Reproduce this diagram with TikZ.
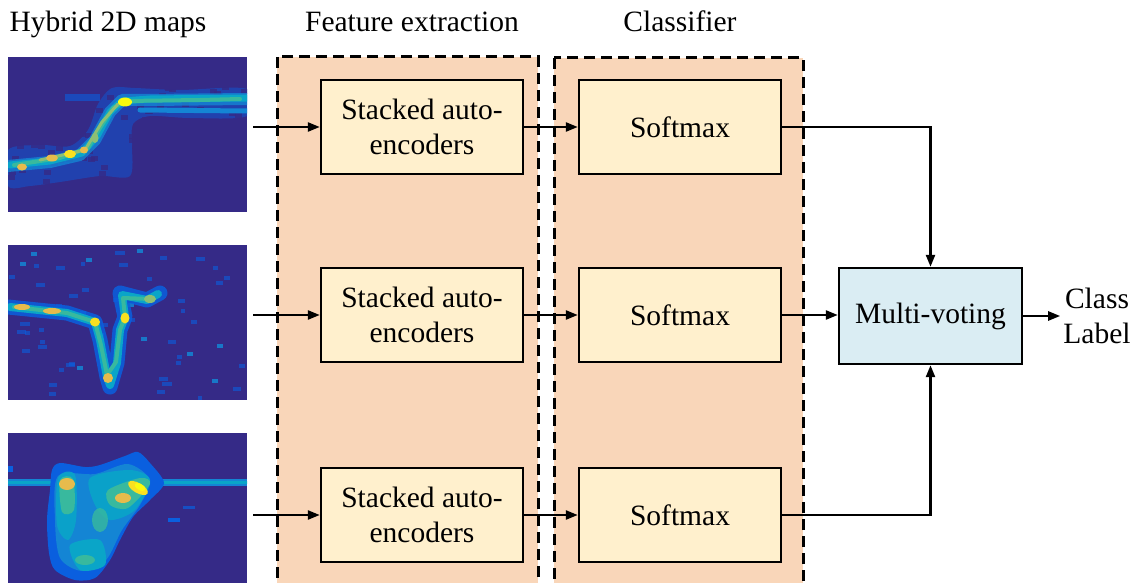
\documentclass[tikz,border=0pt]{standalone}
\usepackage{fontspec}
\setmainfont{Liberation Serif}
\usetikzlibrary{arrows.meta}
\definecolor{mapbg}{HTML}{352A87}
\definecolor{pblue}{HTML}{0A5FDF}
\definecolor{plblue}{HTML}{1485D4}
\definecolor{pcyan}{HTML}{0AA5C8}
\definecolor{pteal}{HTML}{38B99E}
\definecolor{pgreen}{HTML}{8CBF74}
\definecolor{porange}{HTML}{E6BB4C}
\definecolor{pyellow}{HTML}{F9E020}
\definecolor{pbright}{HTML}{F9FB0E}
\definecolor{panelfill}{HTML}{F9D6B9}
\definecolor{boxfill}{HTML}{FFF0CD}
\definecolor{mvfill}{HTML}{DAEDF3}
\tikzset{
  panel/.style={draw=black, fill=panelfill, line width=3pt, dash pattern=on 11pt off 6pt},
  blk/.style={draw=black, fill=boxfill, line width=2.4pt, minimum width=202pt, minimum height=94pt, inner sep=0pt, align=center, font=\fontsize{29.5}{35}\selectfont},
  mvbox/.style={draw=black, fill=mvfill, line width=2.4pt, minimum width=183pt, minimum height=96pt, inner sep=0pt, font=\fontsize{29.5}{35}\selectfont},
  title/.style={anchor=base, inner sep=0pt, font=\fontsize{29.5}{35}\selectfont},
  lbl/.style={align=center, inner sep=3pt, font=\fontsize{29.5}{35}\selectfont},
  arr/.style={line width=2.4pt, -{Triangle[length=12pt,width=9pt]}},
  mapnode/.style={fill=mapbg, minimum width=239pt, minimum height=155pt, inner sep=0pt},
  haze/.style={line width=#1, line cap=round, line join=round}
}
\begin{document}
\begin{tikzpicture}[x=1pt,y=-1pt]
\clip (0,0) rectangle (1137,583);
\fill[white] (0,0) rectangle (1137,583);

% titles
\node[title] (t1) at (108,32) {Hybrid 2D maps};
\node[title] (t2) at (412,32) {Feature extraction};
\node[title] (t3) at (680,32) {Classifier};

% panels
\draw[panel] (277,57) rectangle (538,620);
\draw[panel] (554,58) rectangle (803,620);

% ---------- map 1 ----------
\node[mapnode] (m1) at (127.5,134.5) {};
\begin{scope}
\clip (8,57) rectangle (247,212);
\fill[pblue, opacity=.45] plot[smooth cycle] coordinates {(8,150) (40,145) (70,146) (88,130) (98,104) (112,88) (135,88) (180,90) (247,89) (247,116) (190,118) (150,116) (133,124) (132,145) (130,176) (100,176) (60,182) (30,186) (8,186)};
\pgfmathsetseed{11}
\foreach \i in {1,...,110}{
  \pgfmathsetmacro\xx{8+235*rnd}
  \pgfmathsetmacro\yy{84+104*rnd}
  \fill[mapbg, opacity=.8] (\xx,\yy) rectangle ++(7,5);
}
\fill[pblue, opacity=.6] (65,94) rectangle (100,101);
\draw[plblue, haze=12pt, opacity=.8] (8,166) -- (50,162) -- (80,155) -- (95,140) -- (110,112) -- (122,100) -- (150,100) -- (247,99);
\draw[plblue, haze=5pt] (140,110) -- (247,111);
\draw[pcyan, haze=7pt] (10,165) -- (50,161) -- (82,153) -- (97,136) -- (110,112) -- (122,101) -- (150,99) -- (247,98);
\draw[pteal, haze=4pt] (14,165) -- (60,158) -- (88,148) -- (100,128) -- (113,108) -- (125,101) -- (200,100) -- (240,99);
\draw[pgreen, haze=3pt] (40,160) -- (85,150) -- (102,122) -- (118,104);
\fill[porange] (22,167) ellipse (5pt and 3.5pt);
\fill[porange] (52,158) ellipse (6pt and 3.5pt);
\fill[pyellow] (70,154) ellipse (6pt and 4pt);
\fill[porange] (84,150) ellipse (4pt and 3.5pt);
\fill[pbright] (125,102) ellipse (7pt and 4.5pt);
\fill[pgreen] (95,138) ellipse (3.5pt and 5pt);
\end{scope}

% ---------- map 2 ----------
\node[mapnode] (m2) at (127.5,322.5) {};
\begin{scope}
\clip (8,245) rectangle (247,400);
\pgfmathsetseed{7}
\foreach \i in {1,...,45}{
  \pgfmathsetmacro\xx{8+235*rnd}
  \pgfmathsetmacro\yy{246+150*rnd}
  \pgfmathsetmacro\ww{4+6*rnd}
  \fill[pblue, opacity=.6] (\xx,\yy) rectangle ++(\ww,4);
}
\foreach \i in {1,...,12}{
  \pgfmathsetmacro\xx{8+235*rnd}
  \pgfmathsetmacro\yy{246+150*rnd}
  \fill[plblue, opacity=.85] (\xx,\yy) rectangle ++(6,4);
}
\draw[pblue, haze=15pt, opacity=.85] (8,307) -- (67,313) -- (95,322) -- (100,340) -- (107,377) -- (110,387) -- (117,363) -- (120,330) -- (125,317) -- (120,293) -- (147,300) -- (160,293);
\draw[pcyan, haze=8pt] (10,307) -- (67,313) -- (95,322) -- (100,340) -- (107,377) -- (110,385) -- (117,363) -- (120,330) -- (125,317) -- (122,295) -- (147,300) -- (158,294);
\draw[pteal, haze=4pt] (14,307) -- (67,313) -- (95,322) -- (101,345) -- (107,375) -- (116,362) -- (120,330) -- (125,317) -- (123,298) -- (150,299);
\fill[porange] (22,307) ellipse (8pt and 3pt);
\fill[porange] (52,311) ellipse (9pt and 3pt);
\fill[pyellow] (95,322) ellipse (5pt and 4.5pt);
\fill[pyellow] (125,318) ellipse (4.5pt and 5.5pt);
\fill[porange] (108,378) ellipse (5pt and 5pt);
\fill[pgreen] (150,299) ellipse (6pt and 4pt);
\end{scope}

% ---------- map 3 ----------
\node[mapnode] (m3) at (127.5,510.5) {};
\begin{scope}
\clip (8,433) rectangle (247,590);
\fill[plblue] (8,479) rectangle (247,486);
\draw[pcyan, haze=3pt] (8,482.5) -- (247,482.5);
\fill[pblue] (8,466) rectangle (13,472);
\fill[pblue] (168,518) rectangle (180,522);
\fill[pblue, opacity=.7] (183,506) rectangle (195,509);
\fill[pblue] plot[smooth cycle] coordinates {(52,470) (60,463) (85,467) (100,465) (125,456) (138,452) (150,463) (164,483) (150,500) (133,517) (120,540) (110,560) (95,578) (75,580) (55,570) (49,553) (47,520) (50,490)};
\fill[plblue] plot[smooth cycle] coordinates {(58,476) (95,474) (128,464) (150,480) (140,505) (122,530) (106,560) (82,571) (60,558) (55,520)};
\fill[pcyan, opacity=.9] plot[smooth cycle] coordinates {(58,478) (75,475) (76,520) (68,540) (57,525)};
\fill[pcyan, opacity=.9] plot[smooth cycle] coordinates {(90,478) (130,470) (150,480) (135,510) (110,520) (95,505)};
\fill[pteal] plot[smooth cycle] coordinates {(60,480) (73,479) (74,510) (62,512)};
\fill[pteal] plot[smooth cycle] coordinates {(108,490) (140,478) (150,484) (128,508) (110,505)};
\fill[pcyan] plot[smooth cycle] coordinates {(70,545) (100,540) (105,565) (80,570)};
\fill[pteal] (85,560) ellipse (10pt and 5pt);
\fill[pteal, opacity=.8] (100,520) ellipse (8pt and 12pt);
\fill[porange] (67,484) ellipse (8pt and 6pt);
\fill[porange] (123,498) ellipse (8pt and 5pt);
\fill[pyellow, rotate around={-30:(138,488)}] (138,488) ellipse (11pt and 5pt);
\fill[pbright, rotate around={-30:(140,487)}] (140,487) ellipse (6pt and 3pt);
\end{scope}

% ---------- blocks ----------
\node[blk] (a1) at (422,127) {Stacked auto-\\encoders};
\node[blk] (a2) at (422,315) {Stacked auto-\\encoders};
\node[blk] (a3) at (422,515) {Stacked auto-\\encoders};
\node[blk] (s1) at (680,127) {Softmax};
\node[blk] (s2) at (680,315) {Softmax};
\node[blk] (s3) at (680,515) {Softmax};
\node[mvbox] (mv) at (930.5,316) {Multi-voting};
\node[lbl] (cl) at (1097,316) {Class\\Label};

% ---------- connectors ----------
\coordinate (c1) at (253,127);
\coordinate (c2) at (253,315);
\coordinate (c3) at (253,515);
\draw[arr] (c1) -- (a1.west);
\draw[arr] (c2) -- (a2.west);
\draw[arr] (c3) -- (a3.west);
\draw[arr] (a1.east) -- (s1.west);
\draw[arr] (a2.east) -- (s2.west);
\draw[arr] (a3.east) -- (s3.west);
\draw[arr] (s1.east) -| (mv.north);
\draw[arr] (s2.east) -- (mv.west |- s2.east);
\draw[arr] (s3.east) -| (mv.south);
\draw[arr] (mv.east) -- (cl.west);
\end{tikzpicture}
\end{document}
